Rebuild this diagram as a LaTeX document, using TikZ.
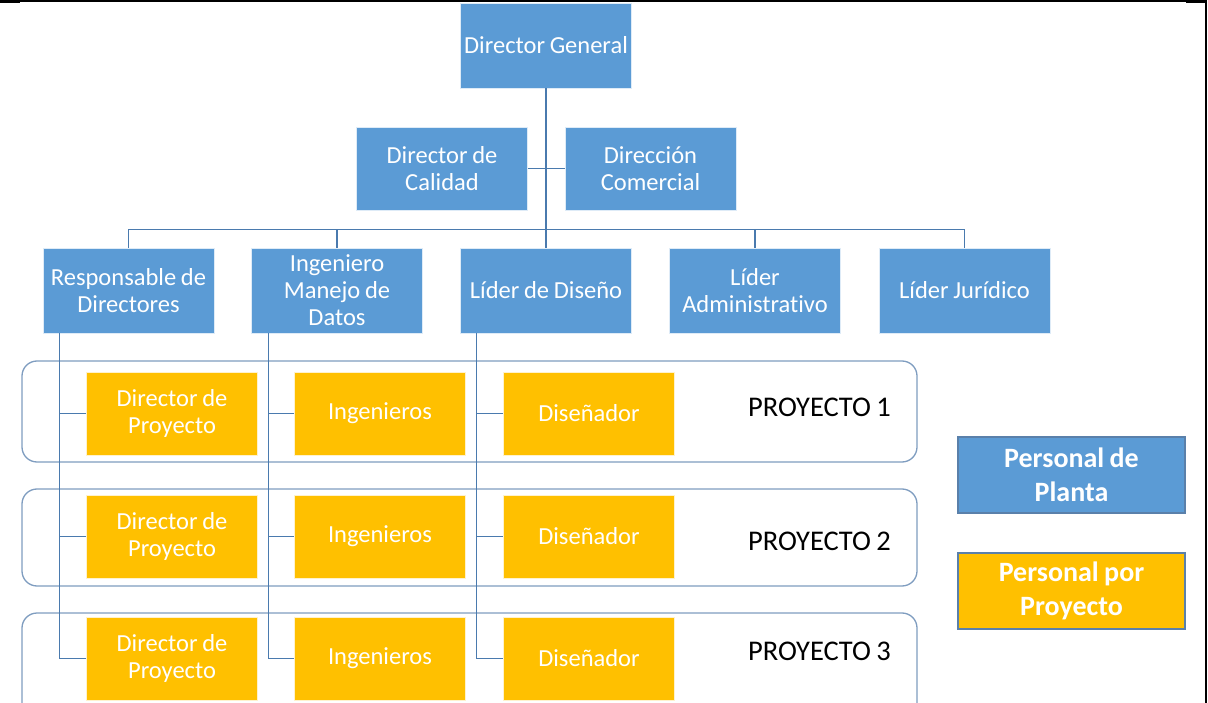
\documentclass[tikz,border=0pt]{standalone}
\usepackage{fontspec}
\setmainfont{Carlito}[WordSpace=0.85,Ligatures=NoCommon]
\definecolor{planta}{HTML}{5B9BD5}
\definecolor{proy}{HTML}{FFC000}
\definecolor{conn}{HTML}{4A7AAE}
\definecolor{frameblue}{HTML}{7F9DC0}
\definecolor{legborder}{HTML}{5A80AA}
\begin{document}
\begin{tikzpicture}[x=1pt,y=-1pt,
  plantabox/.style={draw=white!80!planta, line width=0.6pt, fill=planta, text=white,
    minimum width=171pt, minimum height=85pt, inner sep=0pt, align=center,
    font=\fontsize{24.5}{27}\selectfont},
  proybox/.style={plantabox, fill=proy, draw=white!80!proy, minimum height=83pt},
  projframe/.style={draw=frameblue, line width=1.3pt, rounded corners=15pt, fill=white},
  projlabel/.style={text=black, inner sep=0pt, font=\fontsize{28.5}{32}\selectfont},
  legbox/.style={draw=legborder, line width=1.2pt, text=white, minimum width=227pt,
    minimum height=76pt, inner sep=0pt, align=center,
    font=\fontsize{28}{34}\selectfont\bfseries},
  link/.style={draw=conn, line width=1.4pt}]
\useasboundingbox (0,0) rectangle (1208,703);
\clip (0,0) rectangle (1208,703);

% project frames
\draw[projframe] (22,361) rectangle (917,462);
\draw[projframe] (22,489) rectangle (917,586);
\draw[projframe] (22,613) rectangle (917,718);

% plant staff
\node[plantabox] (dg) at (546,45.5) {Director General};
\node[plantabox, minimum height=83pt] (cal) at (442,168.5) {Director de\\Calidad};
\node[plantabox, minimum height=83pt] (com) at (650.5,168.5) {Dirección\\Comercial};
\node[plantabox] (resp) at (128.5,290.5) {Responsable de\\Directores};
\node[plantabox] (ing) at (337,290.5) {Ingeniero\\Manejo de\\Datos};
\node[plantabox] (lid) at (546,290.5) {Líder de Diseño};
\node[plantabox] (adm) at (755,290.5) {Líder\\Administrativo};
\node[plantabox] (jur) at (964.5,290.5) {Líder Jurídico};

% project staff
\foreach \r/\yy in {1/413.5, 2/536.5, 3/658.5}{
  \node[proybox] (dp\r) at (172,\yy) {Director de\\Proyecto};
  \node[proybox] (in\r) at (380,\yy) {Ingenieros};
  \node[proybox] (di\r) at (589,\yy) {Diseñador};
}
\node[projlabel] (p1) at (819.5,407) {PROYECTO 1};
\node[projlabel] (p2) at (819.5,541) {PROYECTO 2};
\node[projlabel] (p3) at (819.5,651) {PROYECTO 3};

% connectors
\draw[link] (dg.south) -- (lid.north);
\draw[link] (cal.east) -- (com.west);
\draw[link] (resp.north) -- ++(0,-18) -| (jur.north);
\draw[link] (ing.north) -- ++(0,-18);
\draw[link] (adm.north) -- ++(0,-18);
\foreach \r in {1,2,3}{
  \draw[link] ([xshift=17pt]resp.south west) |- (dp\r.west);
  \draw[link] ([xshift=17pt]ing.south west) |- (in\r.west);
  \draw[link] ([xshift=16pt]lid.south west) |- (di\r.west);
}

% legend
\node[legbox, fill=planta] (lp) at (1071.5,475) {Personal de\\Planta};
\node[legbox, fill=proy] (lq) at (1071.5,591) {Personal por\\Proyecto};

% page frame lines
\draw[line width=2pt] (0,1.5) -- (1206,1.5);
\draw[line width=3.5pt] (0,1.5) -- (20,1.5);
\draw[line width=3.5pt] (1186,1.5) -- (1206,1.5);
\draw[line width=2.5pt] (1206,0) -- (1206,703);
\end{tikzpicture}
\end{document}
